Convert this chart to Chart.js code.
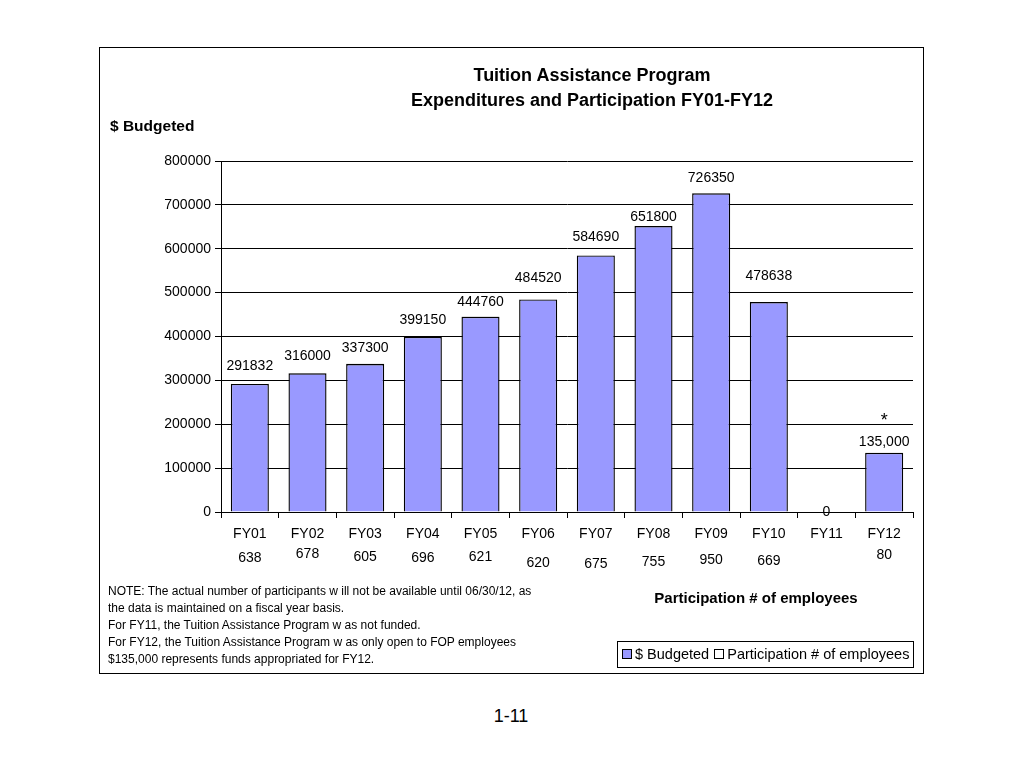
<!DOCTYPE html>
<html>
<head>
<meta charset="utf-8">
<script src="https://cdn.jsdelivr.net/npm/chart.js@4/dist/chart.umd.min.js"></script>
<style>
  html, body { margin:0; padding:0; background:#fff; }
  body { width:1024px; height:768px; position:relative; font-family:"Liberation Sans", Arial, sans-serif; color:#000; overflow:hidden; }
  .frame { position:absolute; left:99px; top:47px; width:825px; height:627px; border:1px solid #000; box-sizing:border-box; }
  .wrap { position:absolute; left:100px; top:48px; width:822px; height:624px; }
  .t { position:absolute; white-space:nowrap; }
  .title { left:342px; width:500px; text-align:center; font-weight:bold; font-size:18px; }
  .notes { left:108px; top:583px; font-size:12px; line-height:17px; }
  .legend { position:absolute; left:617px; top:641px; width:297px; height:27px; border:1px solid #000; box-sizing:border-box; font-size:14.5px; line-height:25px; white-space:nowrap; padding-left:4px; }
  .sw { display:inline-block; width:8px; height:8px; border:1px solid #000; vertical-align:0px; margin-right:3px; }
</style>
</head>
<body>
<div class="frame"></div>
<div class="wrap"><canvas id="c"></canvas></div>
<div class="t title" style="top:65px;">Tuition Assistance Program</div>
<div class="t title" style="top:90px;">Expenditures and Participation FY01-FY12</div>
<div class="t" style="left:110px; top:117px; font-weight:bold; font-size:15.5px;">$ Budgeted</div>
<div class="t" style="left:606px; width:300px; text-align:center; top:589px; font-weight:bold; font-size:15px;">Participation # of employees</div>
<div class="t notes">NOTE: The actual number of participants w ill not be available until 06/30/12, as<br>the data is maintained on a fiscal year basis.<br>For FY11, the Tuition Assistance Program w as not funded.<br>For FY12, the Tuition Assistance Program w as only open to FOP employees<br>$135,000 represents funds appropriated for FY12.</div>
<div class="legend"><span class="sw" style="background:#9999FF"></span>$ Budgeted <span class="sw" style="background:#fff; margin-left:1px;"></span>Participation # of employees</div>
<div class="t" style="left:461px; width:100px; text-align:center; top:706px; font-size:18px;">1-11</div>
<script>
const categories = ['FY01','FY02','FY03','FY04','FY05','FY06','FY07','FY08','FY09','FY10','FY11','FY12'];
const budgeted = [291832, 316000, 337300, 399150, 444760, 484520, 584690, 651800, 726350, 478638, 0, 135000];
const budgetedLabels = ['291832','316000','337300','399150','444760','484520','584690','651800','726350','478638','0','135,000'];
const participants = [638, 678, 605, 696, 621, 620, 675, 755, 950, 669, null, 80];
const yTicks = [0, 100000, 200000, 300000, 400000, 500000, 600000, 700000, 800000];

// label placement styling (pixels)
const budgetLabelLift = [18, 17, 16, 17, 15, 21, 18, 9, 15, 26, 0, 11];
const partLabelDrop = [46, 42, 45, 46, 45, 51, 52, 50, 48, 49, 0, 43];

const FONT = '"Liberation Sans", Arial, sans-serif';

const labelPlugin = {
  id: 'valueLabels',
  afterDatasetsDraw(chart) {
    const ctx = chart.ctx, xs = chart.scales.x, ys = chart.scales.y;
    ctx.save();
    ctx.fillStyle = '#000';
    ctx.textAlign = 'center';
    ctx.textBaseline = 'middle';
    ctx.font = '14px ' + FONT;
    budgeted.forEach((v, i) => {
      if (v == null) return;
      const px = xs.getPixelForValue(i);
      const py = ys.getPixelForValue(v) - budgetLabelLift[i];
      ctx.fillText(budgetedLabels[i], px, py);
    });
    participants.forEach((v, i) => {
      if (v == null) return;
      ctx.fillText(String(v), xs.getPixelForValue(i), ys.bottom + partLabelDrop[i]);
    });
    // asterisk note marker for FY12
    const last = budgeted.length - 1;
    ctx.font = '18px ' + FONT;
    ctx.fillText('*', xs.getPixelForValue(last), ys.getPixelForValue(budgeted[last]) - 32);
    ctx.restore();
  }
};

new Chart(document.getElementById('c'), {
  type: 'bar',
  data: {
    labels: categories,
    datasets: [
      { label: '$ Budgeted', data: budgeted, backgroundColor: '#9999FF', borderColor: '#000', borderWidth: 1.4, borderSkipped: 'bottom' },
      { label: 'Participation # of employees', data: participants, backgroundColor: '#fff', borderColor: '#000', borderWidth: 1 }
    ]
  },
  options: {
    responsive: true,
    maintainAspectRatio: false,
    animation: false,
    layout: { padding: { top: 113, right: 9, bottom: 0, left: 0 } },
    datasets: { bar: { categoryPercentage: 1.0, barPercentage: 0.66 } },
    plugins: { legend: { display: false }, tooltip: { enabled: false }, title: { display: false } },
    scales: {
      x: {
        stacked: true,
        grid: { drawOnChartArea: false, drawTicks: true, tickLength: 6, color: '#000', offset: true },
        border: { display: true, color: '#000', width: 1 },
        ticks: { color: '#000', font: { family: FONT, size: 14 }, padding: 8, maxRotation: 0 },
        afterFit(scale) { scale.height = 160; }
      },
      y: {
        stacked: true,
        min: 0, max: 800000,
        afterBuildTicks(scale) { scale.ticks = yTicks.map(v => ({ value: v })); },
        grid: { color: '#000', lineWidth: 1, tickLength: 6, drawTicks: true },
        border: { display: true, color: '#000', width: 1 },
        ticks: { color: '#000', font: { family: FONT, size: 14 }, padding: 4, callback: v => String(v) },
        afterFit(scale) { scale.width = 121; }
      }
    }
  },
  plugins: [labelPlugin]
});
</script>
</body>
</html>
